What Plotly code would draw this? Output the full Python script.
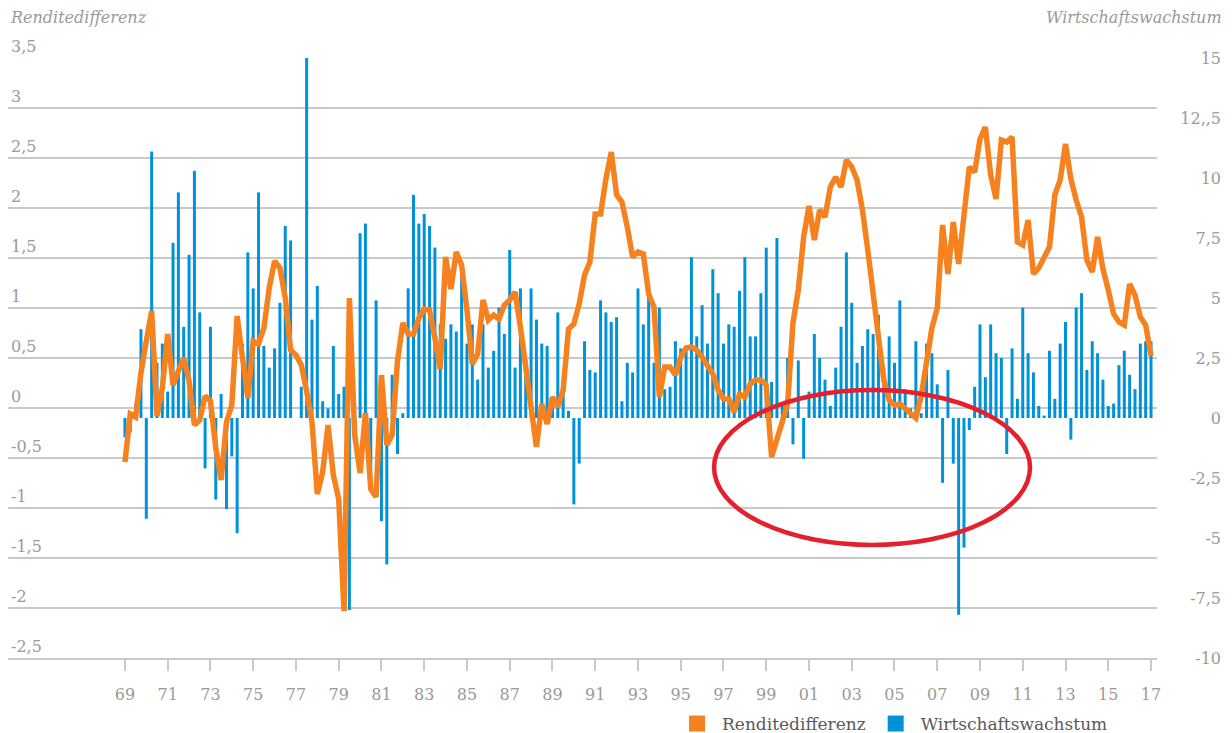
import plotly.graph_objects as go

# Quarterly real GDP growth (annualised, %) - right axis
growth = [
    -0.8, -0.6, 0.6, 3.7, -4.2, 11.1, 2.3, 3.1, 1.1, 7.3,
    9.4, 3.8, 6.8, 10.3, 4.4, -2.1, 3.8, -3.4, 1.0, -3.8,
    -1.6, -4.8, 3.1, 6.9, 5.4, 9.4, 3.0, 2.1, 2.9, 4.8,
    8.0, 7.4, 0.0, 1.3, 16.4, 4.1, 5.5, 0.7, 0.4, 3.0,
    1.0, 1.3, -8.0, -0.5, 7.7, 8.1, -2.9, 4.9, -4.3, -6.1,
    1.8, -1.5, 0.2, 5.4, 9.3, 8.1, 8.5, 8.0, 7.1, 3.9,
    3.3, 3.9, 3.6, 6.4, 3.1, 3.9, 1.6, 3.9, 2.1, 2.8,
    4.6, 3.5, 7.0, 2.1, 5.4, 2.4, 5.4, 4.1, 3.1, 3.0,
    0.8, 4.4, 1.5, 0.3, -3.6, -1.9, 3.2, 2.0, 1.9, 4.9,
    4.4, 4.0, 4.2, 0.7, 2.3, 1.9, 5.4, 3.9, 5.5, 2.3,
    4.6, 1.2, 1.3, 3.2, 2.9, 2.9, 6.7, 3.4, 4.7, 3.1,
    6.2, 5.2, 3.1, 3.9, 3.8, 5.3, 6.7, 3.4, 3.4, 5.2,
    7.1, 1.5, 7.5, 0.5, 2.5, -1.1, 2.4, -1.7, 1.1, 3.5,
    2.5, 1.6, 0.5, 2.1, 3.8, 6.9, 4.8, 2.3, 3.0, 3.7,
    3.5, 4.3, 2.1, 3.4, 2.3, 4.9, 1.2, 0.4, 3.2, 0.2,
    3.1, 2.7, 1.4, -2.7, 2.0, -1.9, -8.2, -5.4, -0.5, 1.3,
    3.9, 1.7, 3.9, 2.7, 2.5, -1.5, 2.9, 0.8, 4.6, 2.7,
    1.9, 0.5, 0.1, 2.8, 0.8, 3.1, 4.0, -0.9, 4.6, 5.2,
    2.0, 3.2, 2.7, 1.6, 0.5, 0.6, 2.2, 2.8, 1.8, 1.2,
    3.1, 3.2, 3.2,
]

# Yield spread (percentage points) - left axis
spread = [
    -0.54, -0.06, -0.09, 0.35, 0.67, 0.97, -0.08, 0.20, 0.74, 0.23,
    0.37, 0.50, 0.27, -0.17, -0.12, 0.12, 0.07, -0.40, -0.72, -0.14,
    0.03, 0.92, 0.50, 0.10, 0.67, 0.64, 0.80, 1.20, 1.47, 1.40,
    1.10, 0.58, 0.53, 0.43, 0.17, -0.14, -0.86, -0.64, -0.17, -0.67,
    -0.91, -2.03, 1.10, -0.27, -0.65, -0.05, -0.81, -0.89, 0.33, -0.37,
    -0.27, 0.47, 0.85, 0.74, 0.74, 0.90, 0.99, 0.98, 0.70, 0.39,
    1.51, 1.19, 1.56, 1.43, 0.98, 0.44, 0.54, 1.08, 0.88, 0.93,
    0.89, 1.03, 1.08, 1.16, 0.81, 0.38, -0.02, -0.39, 0.04, -0.16,
    0.11, 0.01, 0.18, 0.79, 0.84, 1.04, 1.33, 1.46, 1.94, 1.94,
    2.29, 2.56, 2.13, 2.06, 1.81, 1.51, 1.56, 1.54, 1.14, 1.01,
    0.11, 0.41, 0.41, 0.33, 0.51, 0.60, 0.61, 0.58, 0.51, 0.43,
    0.34, 0.18, 0.09, 0.09, -0.04, 0.14, 0.11, 0.24, 0.28, 0.28,
    0.23, -0.49, -0.32, -0.16, 0.04, 0.85, 1.18, 1.71, 2.02, 1.68,
    1.98, 1.91, 2.21, 2.31, 2.21, 2.48, 2.41, 2.28, 1.98, 1.58,
    1.14, 0.71, 0.28, 0.08, 0.03, 0.04, -0.01, -0.06, -0.10, 0.12,
    0.45, 0.80, 1.00, 1.83, 1.34, 1.86, 1.44, 1.88, 2.41, 2.36,
    2.69, 2.81, 2.33, 2.09, 2.68, 2.66, 2.71, 1.66, 1.63, 1.88,
    1.34, 1.40, 1.52, 1.61, 2.13, 2.28, 2.64, 2.29, 2.08, 1.91,
    1.48, 1.36, 1.71, 1.39, 1.18, 0.94, 0.86, 0.83, 1.24, 1.13,
    0.91, 0.83, 0.52,
]

first_year = 1969
quarter_step = 0.25
tick_years = list(range(1969, 2018, 2))
tick_labels = ["69", "71", "73", "75", "77", "79", "81", "83", "85", "87", "89", "91", "93",
               "95", "97", "99", "01", "03", "05", "07", "09", "11", "13", "15", "17"]
left_ticks = [-2.5, -2, -1.5, -1, -0.5, 0, 0.5, 1, 1.5, 2, 2.5, 3, 3.5]
left_labels = ["-2,5", "-2", "-1,5", "-1", "-0,5", "0", "0,5", "1", "1,5", "2", "2,5", "3", "3,5"]
right_ticks = [-10, -7.5, -5, -2.5, 0, 2.5, 5, 7.5, 10, 12.5, 15]
right_labels = ["-10", "-7,5", "-5", "-2,5", "0", "2,5", "5", "7,5", "10", "12,,5", "15"]

series_names = ["Renditedifferenz", "Wirtschaftswachstum"]
orange = "#f5821f"
blue = "#0092d9"
grey_text = "#9a9a9a"
grid = "#c9c9cc"
FONT = "DejaVu Serif, Georgia, serif"

x_pos = [first_year + quarter_step * i for i in range(len(growth))]

fig = go.Figure()
fig.add_trace(go.Bar(x=x_pos, y=growth, width=0.14, marker=dict(color=blue, line=dict(width=0)),
                     yaxis="y", showlegend=False, hoverinfo="skip"))
fig.add_trace(go.Scatter(x=x_pos, y=spread, mode="lines", line=dict(color=orange, width=5.5),
                         yaxis="y2", showlegend=False, hoverinfo="skip"))
# legend entries (square swatches)
fig.add_trace(go.Scatter(x=[None], y=[None], mode="markers", name=series_names[0],
                         marker=dict(symbol="square", size=16, color=orange), yaxis="y2"))
fig.add_trace(go.Scatter(x=[None], y=[None], mode="markers", name=series_names[1],
                         marker=dict(symbol="square", size=16, color=blue), yaxis="y2"))

fig.update_layout(
    width=1232, height=733,
    margin=dict(l=8, r=8, t=58, b=75),
    paper_bgcolor="white", plot_bgcolor="white",
    font=dict(family=FONT, color=grey_text, size=16),
    xaxis=dict(domain=[0, 0.9449], range=[1963.53, 2017.28], tickvals=tick_years, ticktext=tick_labels,
               showgrid=False, zeroline=False, showline=True, linecolor=grid, linewidth=2,
               ticks="outside", ticklen=11, tickwidth=2, tickcolor=grid, automargin=False,
               ticklabelstandoff=10, tickfont=dict(size=16, color=grey_text)),
    yaxis=dict(range=[-10, 15], tickvals=right_ticks, ticktext=right_labels, side="right",
               anchor="free", position=1.0, ticklabelposition="inside", ticks="",
               showgrid=False, zeroline=False, showline=False, ticklabeloverflow="allow",
               automargin=False, tickfont=dict(size=16, color=grey_text)),
    yaxis2=dict(range=[-2.5, 3.5], tickvals=left_ticks, ticktext=left_labels, side="left",
                overlaying="y", anchor="x", ticklabelposition="inside top", ticks="",
                showgrid=True, gridcolor=grid, gridwidth=1.5, zeroline=False, showline=False,
                automargin=False, ticklabeloverflow="allow", tickfont=dict(size=16, color=grey_text)),
    legend=dict(orientation="h", xref="container", yref="container", x=0.5455, y=1 - 724 / 733,
                xanchor="left", yanchor="middle", itemwidth=40,
                font=dict(size=17, color="#5a5a5a"), bgcolor="rgba(0,0,0,0)"),
    showlegend=True,
    annotations=[
        dict(text="<i>Renditedifferenz</i>", xref="paper", yref="paper", x=0, y=1.067,
             xanchor="left", yanchor="middle", showarrow=False,
             font=dict(size=16, color=grey_text, family=FONT)),
        dict(text="<i>Wirtschaftswachstum</i>", xref="paper", yref="paper", x=1, y=1.067,
             xanchor="right", yanchor="middle", showarrow=False,
             font=dict(size=16, color=grey_text, family=FONT)),
    ],
    shapes=[
        dict(type="circle", xref="x", yref="y2", x0=1996.56, x1=2011.34, y0=-1.37, y1=0.18,
             line=dict(color="#e3202b", width=4.5), layer="above"),
    ],
)

fig.write_html("out.html", config={"displayModeBar": False},
               post_script="document.body.style.margin='0';")
